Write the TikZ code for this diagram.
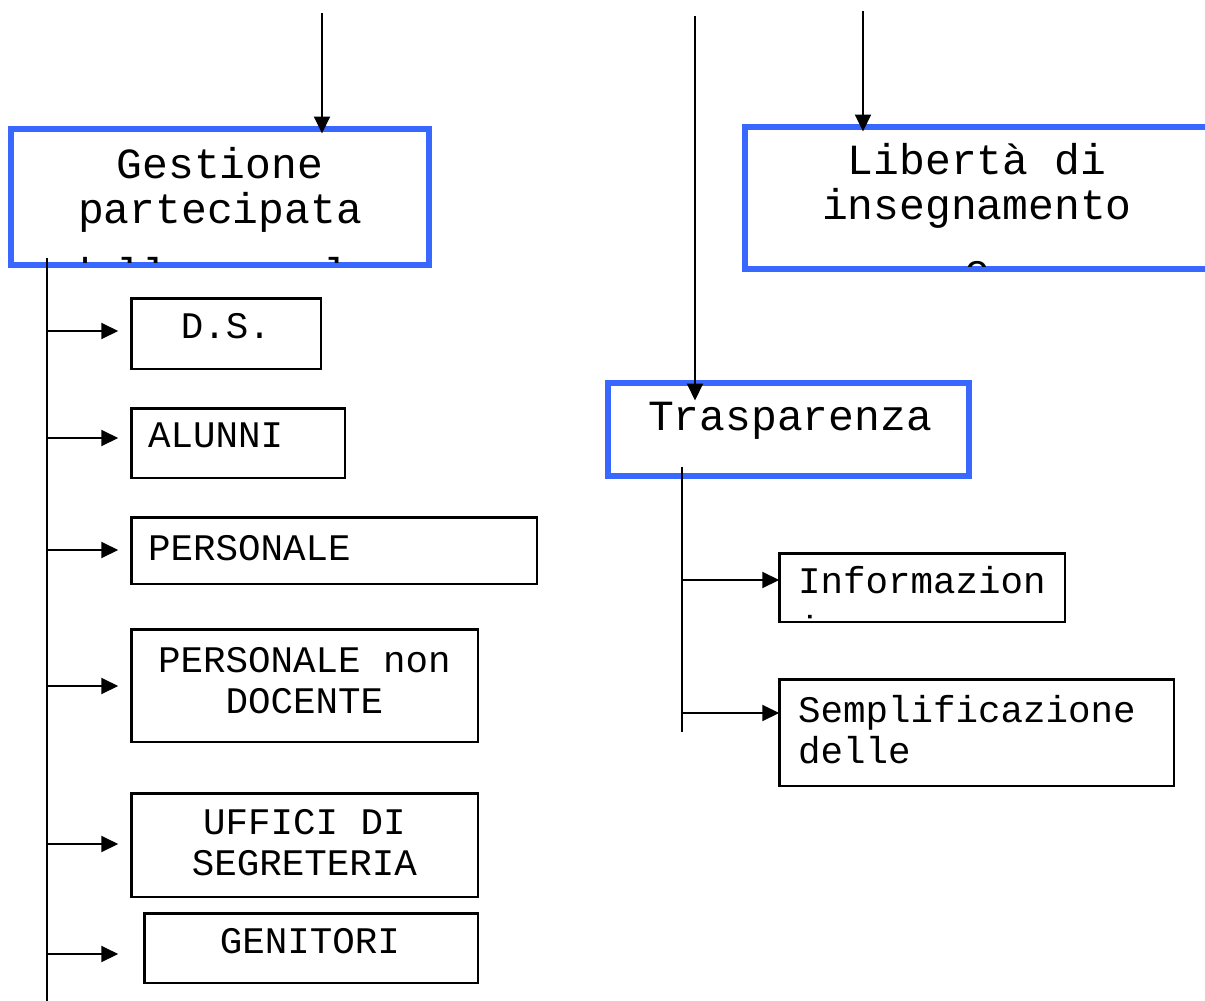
\documentclass[tikz,border=0pt]{standalone}
\usepackage{fontspec}
\setmonofont{Liberation Mono}
\usetikzlibrary{arrows.meta}
\definecolor{boxblue}{RGB}{56,104,255}
\newcommand{\bigtt}{\ttfamily\fontsize{43}{45.5}\selectfont}
\newcommand{\smalltt}{\ttfamily\fontsize{37.5}{41}\selectfont}

\begin{document}
\begin{tikzpicture}[x=1pt,y=-1pt,
    bluebox/.style={draw=boxblue, line width=6pt, inner sep=0pt, outer sep=0pt},
    itembox/.style={draw, line width=2.5pt, inner sep=0pt, outer sep=0pt},
    bigtext/.style={font=\bigtt, align=center, inner sep=0pt},
    smalltext/.style={font=\smalltt, align=center, inner sep=0pt},
    link/.style={line width=2pt},
    arr/.style={line width=2pt, -{Triangle[length=17pt,width=16pt]}}]
  \fill[white] (0,0) rectangle (1205,1001);
  \useasboundingbox (0,0) rectangle (1205,1001);

  % blue boxes
  \node[bluebox, minimum width=418pt, minimum height=136pt] (gest) at (220,197) {};
  \begin{scope}
    \clip ([shift={(3pt,3pt)}]gest.south west) rectangle ([shift={(-3pt,-3pt)}]gest.north east);
    \node[bigtext, anchor=base] (gest-t) at (220,288) {Gestione\\partecipata\\[19pt]delle scuole};
  \end{scope}
  \node[bluebox, minimum width=483pt, minimum height=142pt] (lib) at (986,198) {};
  \begin{scope}
    \clip ([shift={(3pt,3pt)}]lib.south west) rectangle ([shift={(-3pt,-3pt)}]lib.north east);
    \node[bigtext, anchor=base] (lib-t) at (977,284) {Libertà di\\insegnamento\\[19pt]e};
  \end{scope}
  \node[bluebox, minimum width=361pt, minimum height=93pt] (tras) at (788.5,429.5) {};
  \node[bigtext, anchor=base] (tras-t) at (790,430) {Trasparenza};

  % left column
  \node[itembox, minimum width=189.5pt, minimum height=70.5pt] (ds) at (226,333.5) {};
  \node[smalltext, anchor=base] (ds-t) at (226,338) {D.S.};
  \node[itembox, minimum width=213.5pt, minimum height=69.5pt] (alunni) at (238,443) {};
  \node[smalltext, anchor=base west] (alunni-t) at (148,447) {ALUNNI};
  \node[itembox, minimum width=405.5pt, minimum height=66.5pt] (pers) at (334,550.5) {};
  \node[smalltext, anchor=base west] (pers-t) at (148,560) {PERSONALE};
  \node[itembox, minimum width=346.5pt, minimum height=112.5pt] (persnd) at (304.5,685.5) {};
  \node[smalltext, anchor=base] (persnd-t) at (304.5,713) {PERSONALE non\\DOCENTE};
  \node[itembox, minimum width=346.5pt, minimum height=103.5pt] (uffici) at (304.5,845) {};
  \node[smalltext, anchor=base] (uffici-t) at (304.5,875) {UFFICI DI\\SEGRETERIA};
  \node[itembox, minimum width=333.5pt, minimum height=69.5pt] (genit) at (311,948) {};
  \node[smalltext, anchor=base] (genit-t) at (310,953) {GENITORI};

  % right column
  \node[itembox, minimum width=285.5pt, minimum height=68.5pt] (info) at (922,587.5) {};
  \begin{scope}
    \clip ([shift={(1.25pt,1.25pt)}]info.south west) rectangle ([shift={(-1.25pt,-1.25pt)}]info.north east);
    \node[smalltext, align=left, anchor=base west] (info-t) at (798,642) {Informazion\\[8pt]i};
  \end{scope}
  \node[itembox, minimum width=394.5pt, minimum height=106.5pt] (sempl) at (976.5,732.5) {};
  \node[smalltext, align=left, anchor=base west] (sempl-t) at (798,763) {Semplificazione\\delle};

  % incoming arrows
  \coordinate (gest-in) at (322,13);
  \coordinate (lib-in) at (863,11);
  \coordinate (tras-in) at (695,16);
  \draw[arr, shorten >=-4.5pt] (gest-in) -- (gest-in |- gest.north);
  \draw[arr, shorten >=-4.5pt] (lib-in) -- (lib-in |- lib.north);
  \draw[arr, shorten >=-17.5pt] (tras-in) -- (tras-in |- tras.north);

  % spines
  \coordinate (gs-top) at (47,258);
  \coordinate (gs-bot) at (47,1003);
  \draw[link] (gs-top) -- (gs-bot);
  \foreach \y/\b/\s in {331/ds/13pt, 438/alunni/13pt, 550/pers/13pt,
                         686/persnd/13pt, 844/uffici/13pt, 954/genit/26pt}{
    \coordinate (s) at (47,\y);
    \draw[arr, shorten >=\s] (s) -- (s -| \b.west);
  }
  \coordinate (ts-top) at (682,467);
  \coordinate (ts-bot) at (682,732);
  \draw[link] (ts-top) -- (ts-bot);
  \foreach \y/\b in {580/info, 713/sempl}{
    \coordinate (t) at (682,\y);
    \draw[arr] (t) -- (t -| \b.west);
  }
\end{tikzpicture}
\end{document}
